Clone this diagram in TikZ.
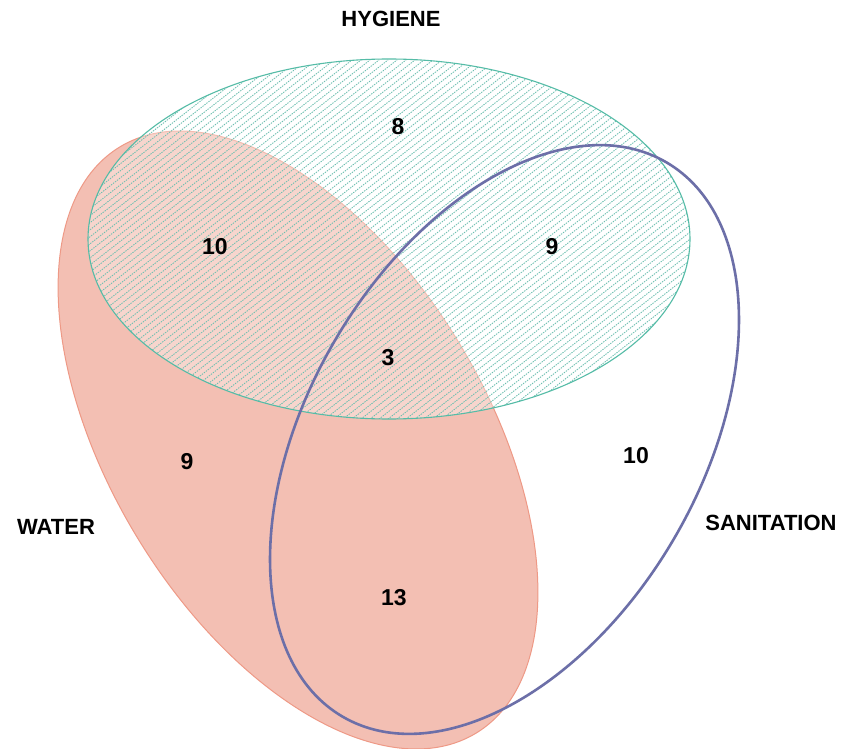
\documentclass[tikz,border=0pt]{standalone}
\usepackage{fontspec}
\setmainfont{Liberation Sans}
\definecolor{waterfill}{HTML}{F3BFB3}
\definecolor{wateredge}{HTML}{EE9986}
\definecolor{hygteal}{HTML}{55BCA7}
\definecolor{hatchcol}{HTML}{6DBFB0}
\definecolor{sanline}{HTML}{6C6FA8}
\tikzset{
  lbl/.style={font=\bfseries\fontsize{22}{26}\selectfont, inner sep=0pt},
  num/.style={font=\bfseries\fontsize{23}{27}\selectfont, inner sep=0pt},
  hatchline/.style={draw=hatchcol, line width=0.85pt, dash pattern=on 1.4pt off 1.1pt},
}
\begin{document}
\begin{tikzpicture}[x=1pt,y=-1pt]
\useasboundingbox (0,0) rectangle (844,749);
\fill[white] (0,0) rectangle (844,749);
% WATER
\fill[waterfill, draw=wateredge, line width=1pt, rotate around={-58.7:(298,440)}]
  (298,440) ellipse [x radius=343pt, y radius=188pt];
% HYGIENE
\fill[white, opacity=0.35] (389,239) ellipse [x radius=301pt, y radius=180pt];
\begin{scope}
  \clip (389,239) ellipse [x radius=301pt, y radius=180pt];
  \foreach \x in {-400,-391,...,720} {
    \draw[hatchline] (\x,430) -- ++(473,-370);
  }
\end{scope}
\draw[hygteal, line width=1.1pt] (389,239) ellipse [x radius=301pt, y radius=180pt];
% SANITATION
\draw[sanline, line width=2.6pt, rotate around={59.7:(504.5,439.5)}]
  (504.5,439.5) ellipse [x radius=321pt, y radius=196.4pt];
% labels
\node[lbl] (hyg) at (391,19) {HYGIENE};
\node[lbl] (wat) at (56,527) {WATER};
\node[lbl] (san) at (771,523) {SANITATION};
% numbers
\node[num] (n8) at (398,127) {8};
\node[num] (n10a) at (215,247) {10};
\node[num] (n9a) at (552,247) {9};
\node[num] (n3) at (388,358) {3};
\node[num] (n9b) at (187,462) {9};
\node[num] (n10b) at (636,456) {10};
\node[num] (n13) at (394,598) {13};
\end{tikzpicture}
\end{document}
